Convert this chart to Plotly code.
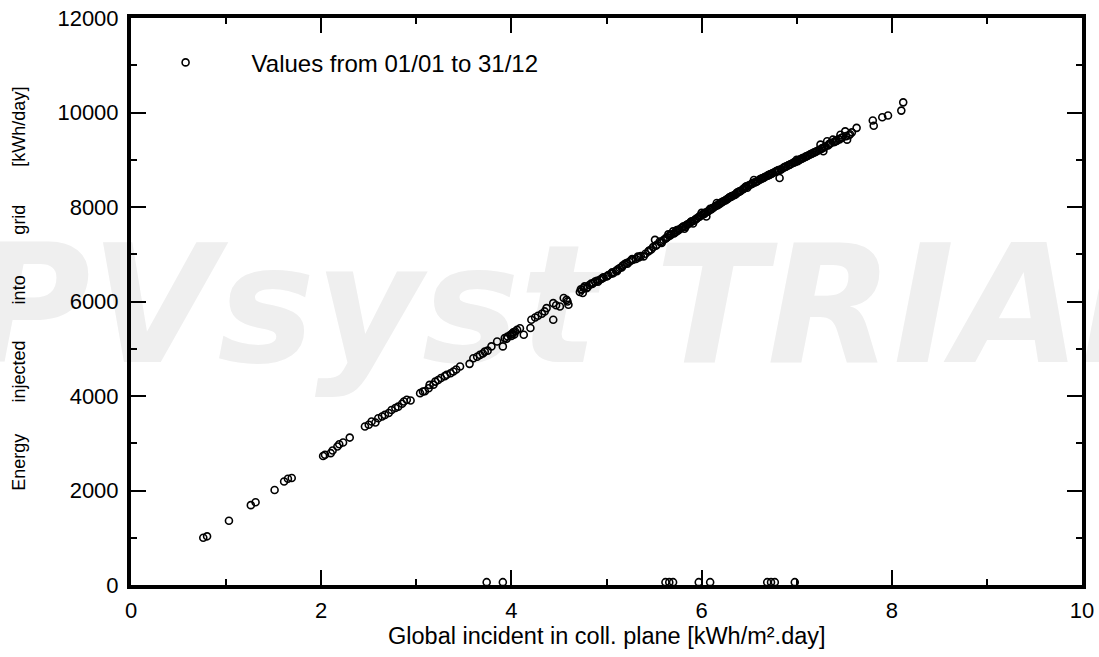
import plotly.graph_objects as go

# Daily values
# (global incident irradiation [kWh/m².day], injected energy [kWh/day])
irr_low = [0.76, 0.80, 1.03, 1.26, 1.31, 1.51, 1.61, 1.65, 1.69,
           2.02, 2.04, 2.10, 2.12, 2.17, 2.19, 2.23, 2.30,
           2.46, 2.50, 2.53, 2.57, 2.60, 2.64, 2.67, 2.71, 2.74, 2.78, 2.81, 2.85, 2.87, 2.90, 2.94,
           3.04, 3.07, 3.09, 3.13, 3.14, 3.18, 3.20, 3.23, 3.26, 3.30, 3.32, 3.36, 3.39, 3.42, 3.46,
           3.56, 3.60, 3.64, 3.67, 3.70, 3.72, 3.75, 3.79, 3.85, 3.91, 3.93, 3.95, 3.96, 3.99, 4.00,
           4.01, 4.02, 4.03, 4.04, 4.06, 4.09, 4.13, 4.20, 4.21, 4.25, 4.28, 4.32, 4.35, 4.37,
           4.44, 4.44, 4.47, 4.51, 4.55, 4.58, 4.59, 4.60]
energy_low = [1000, 1030, 1360, 1690, 1750, 2010, 2190, 2250, 2265,
              2730, 2755, 2790, 2845, 2930, 2980, 3015, 3120,
              3355, 3390, 3460, 3440, 3530, 3565, 3600, 3640, 3705, 3745, 3775, 3835, 3885, 3920, 3905,
              4060, 4095, 4100, 4165, 4235, 4240, 4305, 4340, 4380, 4420, 4450, 4480, 4520, 4560, 4625,
              4680, 4800, 4830, 4870, 4900, 4940, 4960, 5050, 5155, 5050, 5225, 5210, 5260, 5295, 5270,
              5320, 5350, 5300, 5365, 5400, 5435, 5295, 5440, 5615, 5660, 5700, 5740, 5790, 5860,
              5615, 5965, 5920, 5895, 6075, 6035, 6000, 5930]

irr_mid = [4.72, 4.73, 4.74, 4.75, 4.76, 4.77, 4.79, 4.82, 4.84, 4.86, 4.88, 4.90, 4.93, 4.95, 4.97,
           5.00, 5.02, 5.05, 5.07, 5.10, 5.12, 5.14, 5.17, 5.19, 5.21, 5.24, 5.26, 5.28, 5.31, 5.34,
           5.36, 5.39, 5.41, 5.44, 5.47, 5.49, 5.51, 5.53, 5.56, 5.58, 5.60,
           4.80, 4.85, 4.91, 4.96, 5.01, 5.06, 5.11, 5.16, 5.22, 5.27, 5.33, 5.45, 5.52, 5.57]
energy_mid = [6200, 6260, 6250, 6180, 6290, 6320, 6280, 6350, 6380, 6390, 6420, 6440, 6460, 6480, 6510,
              6530, 6560, 6590, 6600, 6650, 6680, 6710, 6760, 6790, 6815, 6840, 6870, 6885, 6900, 6930,
              6960, 6955, 7010, 7060, 7100, 7150, 7305, 7200, 7270, 7240, 7300,
              6300, 6370, 6420, 6500, 6540, 6620, 6640, 6720, 6800, 6900, 6950, 7080, 7180, 7250]

irr_high = [5.62, 5.64, 5.66, 5.68, 5.70, 5.71, 5.73, 5.75, 5.77, 5.79, 5.81, 5.82, 5.84, 5.86, 5.88,
            5.90, 5.91, 5.93, 5.95, 5.97, 5.99, 6.00, 6.02, 6.04, 6.05, 6.06, 6.08, 6.10, 6.12, 6.14,
            6.16, 6.17, 6.19, 6.21, 6.23, 6.25, 6.26, 6.28, 6.30, 6.32, 6.34, 6.36, 6.37, 6.39, 6.41,
            6.43, 6.45, 6.47, 6.48, 6.50, 6.52, 6.54, 6.55, 6.57, 6.59, 6.61, 6.63, 6.65, 6.67, 6.69,
            6.71, 6.73, 6.75, 6.77, 6.79, 6.82, 6.81, 6.84, 6.86, 6.89, 6.91, 6.93, 6.96, 6.98, 7.00,
            7.01, 7.03, 7.05, 7.07, 7.09, 7.11, 7.14, 7.16, 7.18, 7.21, 7.23, 7.25, 7.27, 7.28, 7.30,
            7.32, 7.34, 7.36, 7.38, 7.40, 7.42, 7.44, 7.46, 7.48, 7.51, 7.53, 7.55, 7.58, 7.63,
            7.80, 7.81, 7.90, 7.96, 8.10, 8.12,
            5.63, 5.67, 5.72, 5.76, 5.80, 5.85, 5.89, 5.94, 5.98, 6.03, 6.07, 6.11, 6.15, 6.18, 6.22,
            6.27, 6.31, 6.35, 6.40, 6.44, 6.49, 6.53, 6.58, 6.62, 6.66, 6.70, 6.74, 6.78, 6.83, 6.87,
            6.92, 6.97, 7.02, 7.06, 7.10, 7.15, 7.20, 7.24, 7.29, 7.35, 7.41, 7.47, 7.52, 7.56,
            5.65, 5.74, 5.83, 5.92, 6.01, 6.09, 6.20, 6.29, 6.38, 6.46, 6.56, 6.64, 6.72, 6.80, 6.88,
            6.94, 6.99, 7.04, 7.12, 7.19, 7.26, 7.33, 7.39, 7.45]
energy_high = [7330, 7360, 7390, 7420, 7485, 7440, 7470, 7500, 7530, 7560, 7590, 7540, 7620, 7640, 7670,
               7700, 7650, 7730, 7760, 7790, 7820, 7875, 7850, 7880, 7800, 7900, 7930, 7950, 7980, 8010,
               8085, 8040, 8070, 8100, 8120, 8140, 8155, 8180, 8210, 8230, 8250, 8270, 8300, 8320, 8340,
               8370, 8400, 8440, 8410, 8460, 8480, 8510, 8570, 8530, 8550, 8580, 8600, 8615, 8640, 8660,
               8680, 8700, 8720, 8740, 8760, 8615, 8780, 8800, 8830, 8860, 8880, 8900, 8930, 8950, 9000,
               8970, 9000, 9020, 9040, 9060, 9080, 9110, 9130, 9150, 9180, 9200, 9320, 9250, 9180, 9280,
               9390, 9330, 9360, 9425, 9380, 9400, 9440, 9530, 9470, 9600, 9425, 9520, 9580, 9675,
               9830, 9720, 9900, 9935, 10040, 10215,
               7350, 7400, 7460, 7520, 7570, 7630, 7690, 7740, 7800, 7860, 7910, 7970, 8020, 8060, 8110,
               8170, 8220, 8260, 8330, 8380, 8450, 8490, 8540, 8590, 8630, 8670, 8710, 8750, 8790, 8840,
               8890, 8940, 8990, 9030, 9070, 9120, 9170, 9210, 9260, 9340, 9400, 9460, 9500, 9540,
               7420, 7510, 7580, 7710, 7840, 7960, 8080, 8200, 8310, 8420, 8520, 8610, 8690, 8770, 8850,
               8910, 8960, 9010, 9090, 9160, 9230, 9300, 9370, 9430]

# days with (almost) no injection
irr_off = [3.74, 3.91, 5.62, 5.66, 5.70, 5.97, 6.09, 6.69, 6.73, 6.77, 6.98]
energy_off = [60, 60, 60, 60, 60, 60, 60, 60, 60, 60, 60]

x_ticks = [0, 2, 4, 6, 8, 10]
y_ticks = [0, 2000, 4000, 6000, 8000, 10000, 12000]
x_title = "Global incident in coll. plane [kWh/m².day]"
y_title_words = ["Energy", "injected", "into", "grid", "[kWh/day]"]
legend_label = "Values from 01/01 to 31/12"
watermark = "PVsyst TRIAL"

FONT = "Liberation Sans, Arial, sans-serif"

irr = irr_low + irr_mid + irr_high + irr_off
energy = energy_low + energy_mid + energy_high + energy_off

fig = go.Figure()
fig.add_trace(go.Scatter(
    x=irr, y=energy, mode="markers", name=legend_label,
    marker=dict(symbol="circle-open", size=7, color="black", line=dict(width=1.6, color="black")),
    hoverinfo="skip", cliponaxis=False,
))

axis_common = dict(
    showline=True, linewidth=4, linecolor="black", mirror="allticks",
    ticks="inside", ticklen=15, tickwidth=1.5, tickcolor="black",
    showgrid=False, zeroline=False, automargin=False,
    tickfont=dict(family=FONT, size=22, color="black"),
)

fig.update_xaxes(range=[0, 10], tickvals=x_ticks, ticktext=[str(v) for v in x_ticks],
                 minor=dict(dtick=1, tick0=0, ticklen=6, tickwidth=1.5, tickcolor="black",
                            ticks="inside", showgrid=False),
                 ticklabelstandoff=3, **axis_common)
fig.update_yaxes(range=[0, 12000], tickvals=y_ticks, ticktext=[str(v) for v in y_ticks],
                 minor=dict(dtick=1000, tick0=0, ticklen=6, tickwidth=1.5, tickcolor="black",
                            ticks="inside", showgrid=False),
                 ticklabelstandoff=4, **axis_common)

# Watermark behind the data
fig.add_shape(type="rect", xref="paper", yref="paper", x0=-0.33, x1=1.27, y0=0.364, y1=0.664,
              layer="below", line=dict(width=0), fillcolor="rgba(0,0,0,0)",
              label=dict(text=watermark, textposition="middle center",
                         font=dict(family="DejaVu Sans, Liberation Sans, sans-serif", size=164,
                                   color="#efefef", weight="bold", style="italic")))

# Axis titles
fig.add_annotation(text=x_title, xref="paper", yref="paper", x=0.5, y=-0.090,
                   xanchor="center", yanchor="middle", showarrow=False,
                   font=dict(family=FONT, size=23.5, color="black"))
y_word_pos = [0.217, 0.376, 0.521, 0.644, 0.808]
for word, yp in zip(y_title_words, y_word_pos):
    fig.add_annotation(text=word, xref="paper", yref="paper", x=-0.118, y=yp,
                       xanchor="center", yanchor="middle", textangle=-90, showarrow=False,
                       font=dict(family=FONT, size=18, color="black"))

fig.update_layout(
    width=1099, height=657,
    margin=dict(l=131, r=17, t=18, b=72, autoexpand=False),
    paper_bgcolor="white", plot_bgcolor="rgba(0,0,0,0)",
    showlegend=True,
    legend=dict(x=-0.012, y=0.921, xanchor="left", yanchor="middle",
                itemwidth=122, bgcolor="rgba(0,0,0,0)", borderwidth=0,
                font=dict(family=FONT, size=24, color="black")),
    hovermode=False,
)

fig.write_html("out.html", config={"displayModeBar": False})
